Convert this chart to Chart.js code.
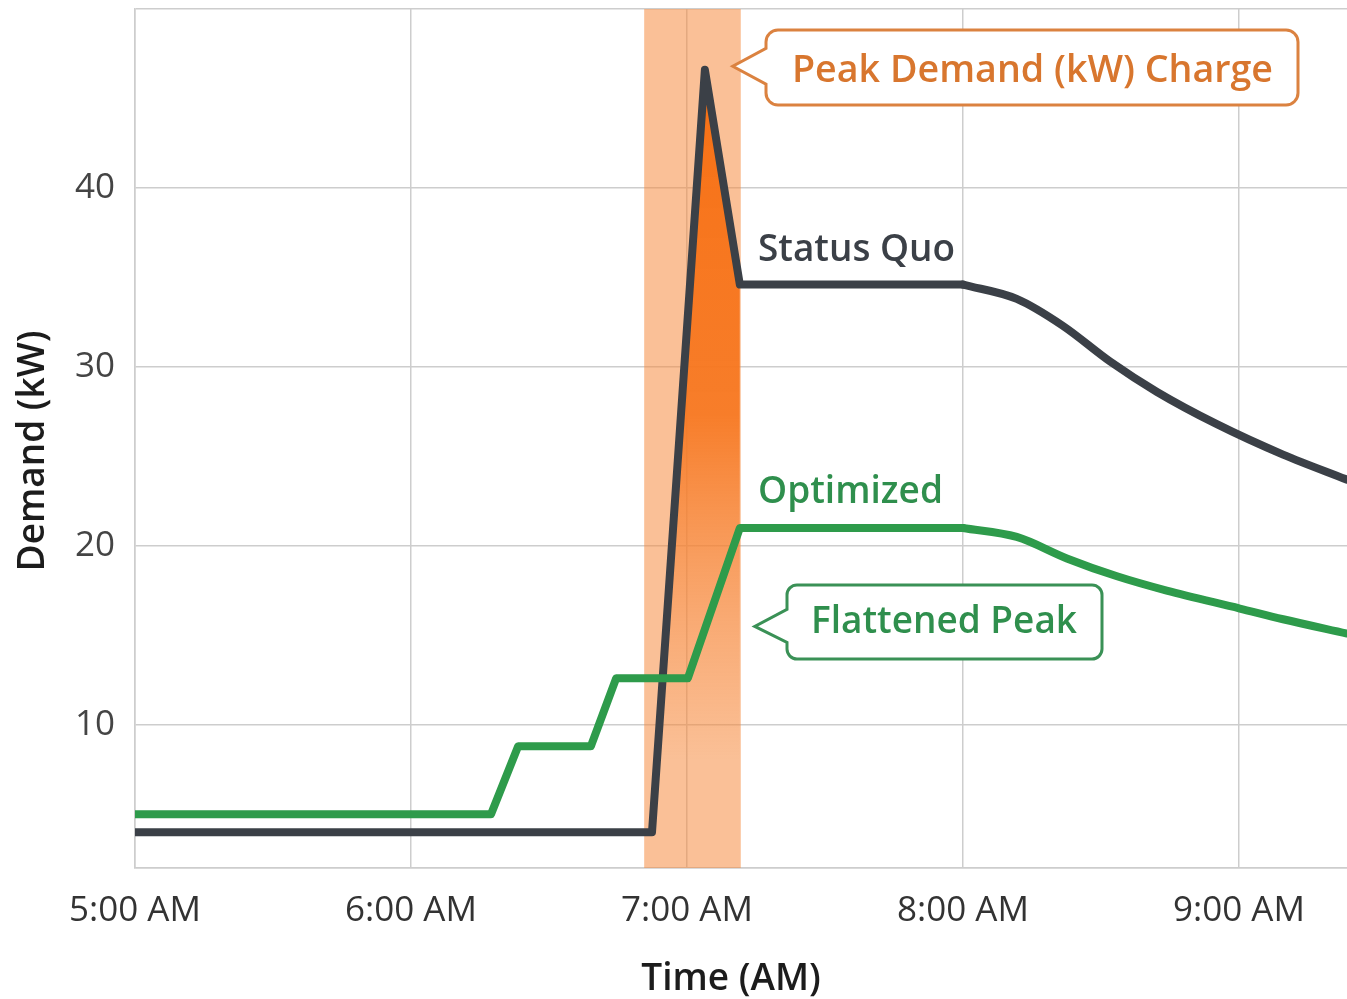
<!DOCTYPE html>
<html><head><meta charset="utf-8">
<script src="https://cdn.jsdelivr.net/npm/chart.js@4.4.1/dist/chart.umd.min.js"></script>
<style>html,body{margin:0;padding:0;background:#fff;overflow:hidden}#wrap{width:1347px;height:999px;position:relative}canvas{display:block}</style>
</head><body><div id="wrap"><canvas id="c" width="1347" height="999"></canvas></div>
<script>
// ---- data (time in minutes after midnight, demand in kW) ----
const xTickMinutes = [300, 360, 420, 480, 540];
const xTickLabels = ['5:00 AM', '6:00 AM', '7:00 AM', '8:00 AM', '9:00 AM'];
const yTickValues = [10, 20, 30, 40];
const statusQuoTime = [300, 412.4, 423.9, 431.5, 480, 491.7, 501.7, 512, 522.2, 535.2, 549.6, 563.5];
const statusQuoKW   = [4, 4, 46.6, 34.6, 34.6, 33.8, 32.3, 30.3, 28.6, 26.8, 25.1, 23.7];
const optimizedTime = [300, 377.4, 383.3, 399.1, 404.6, 420.2, 431.5, 480, 491.7, 502.6, 513.5, 524.3, 540.2, 549.6, 563.5];
const optimizedKW   = [5, 5, 8.8, 8.8, 12.6, 12.6, 21, 21, 20.5, 19.3, 18.3, 17.5, 16.5, 15.9, 15.1];
const peakWindow = [410.7, 431.7];
const xRange = [300, 563.5];
const yRange = [2, 50];

const FONT = "'Open Sans', sans-serif";
const DARK = '#3b4047';
const GREEN = '#2e9b4b';
const GREEN_TXT = '#2f8f4d';
const ORANGE_TXT = '#d8762e';

function pts(t, v, from, to) {
  const out = [];
  for (let i = from; i <= to; i++) out.push({x: t[i], y: v[i]});
  return out;
}
const sqSplit = statusQuoTime.indexOf(480);
const opSplit = optimizedTime.indexOf(480);
const peakStart = 1, peakEnd = 3;

const lineBase = {pointRadius: 0, borderWidth: 8, borderJoinStyle: 'round', borderCapStyle: 'round', fill: false};

const bandPlugin = {
  id: 'band',
  beforeDatasetsDraw(chart) {
    const {ctx, chartArea, scales} = chart;
    const x0 = scales.x.getPixelForValue(peakWindow[0]);
    const x1 = scales.x.getPixelForValue(peakWindow[1]);
    ctx.save();
    ctx.fillStyle = 'rgba(245,140,65,0.55)';
    ctx.fillRect(x0, chartArea.top, x1 - x0, chartArea.bottom - chartArea.top);
    ctx.restore();
  }
};

function calloutPath(ctx, l, t, r, b, tipX, tipY, bt, bb, rad) {
  ctx.beginPath();
  ctx.moveTo(l + rad, t);
  ctx.lineTo(r - rad, t);
  ctx.arcTo(r, t, r, t + rad, rad);
  ctx.lineTo(r, b - rad);
  ctx.arcTo(r, b, r - rad, b, rad);
  ctx.lineTo(l + rad, b);
  ctx.arcTo(l, b, l, b - rad, rad);
  ctx.lineTo(l, bb);
  ctx.lineTo(tipX, tipY);
  ctx.lineTo(l, bt);
  ctx.lineTo(l, t + rad);
  ctx.arcTo(l, t, l + rad, t, rad);
  ctx.closePath();
}

function drawLabel(ctx, text, x, baseline, width, color, size) {
  ctx.save();
  ctx.font = '600 ' + size + 'px ' + FONT;
  const w = ctx.measureText(text).width;
  ctx.translate(x, baseline);
  ctx.scale(width / w, 1);
  ctx.fillStyle = color;
  ctx.textAlign = 'left';
  ctx.textBaseline = 'alphabetic';
  ctx.fillText(text, 0, 0);
  ctx.restore();
}

const annotPlugin = {
  id: 'annot',
  afterDraw(chart) {
    const {ctx, scales} = chart;
    const xs = scales.x, ys = scales.y;
    // Peak callout
    const tipX1 = xs.getPixelForValue(peakWindow[1]) - 8;
    const tipY1 = ys.getPixelForValue(46.8);
    ctx.save();
    calloutPath(ctx, 766, 30, 1298, 105, tipX1, tipY1, tipY1 - 18, tipY1 + 18, 12);
    ctx.fillStyle = '#fff';
    ctx.fill();
    ctx.lineWidth = 3;
    ctx.strokeStyle = '#db8240';
    ctx.stroke();
    ctx.restore();
    drawLabel(ctx, 'Peak Demand (kW) Charge', 792, 82, 481, ORANGE_TXT, 38);

    // Flattened callout
    const tipX2 = xs.getPixelForValue(peakWindow[1]) + 14;
    const tipY2 = ys.getPixelForValue(15.5);
    ctx.save();
    calloutPath(ctx, 787, 585, 1102, 659, tipX2, tipY2, tipY2 - 17, tipY2 + 16, 10);
    ctx.fillStyle = '#fff';
    ctx.fill();
    ctx.lineWidth = 3;
    ctx.strokeStyle = '#3a9156';
    ctx.stroke();
    ctx.restore();
    drawLabel(ctx, 'Flattened Peak', 811, 633, 266, GREEN_TXT, 38);

    // Series labels
    drawLabel(ctx, 'Status Quo', 758, 261, 197, DARK, 38);
    drawLabel(ctx, 'Optimized', 758, 503, 185, GREEN_TXT, 38);

    // Axis titles
    ctx.save();
    ctx.font = '600 37px ' + FONT;
    ctx.fillStyle = '#1c1c1c';
    ctx.textAlign = 'center';
    ctx.textBaseline = 'alphabetic';
    ctx.fillText('Time (AM)', 731, 990);
    ctx.translate(44, 451);
    ctx.rotate(-Math.PI / 2);
    ctx.fillText('Demand (kW)', 0, 0);
    ctx.restore();
  }
};

const ctx = document.getElementById('c').getContext('2d');
new Chart(ctx, {
  type: 'line',
  data: {
    datasets: [
      Object.assign({label: 'Optimized', data: pts(optimizedTime, optimizedKW, 0, opSplit), borderColor: GREEN, tension: 0}, lineBase),
      Object.assign({label: 'Optimized tail', data: pts(optimizedTime, optimizedKW, opSplit, optimizedTime.length - 1), borderColor: GREEN, cubicInterpolationMode: 'monotone'}, lineBase),
      Object.assign({label: 'Status Quo', data: pts(statusQuoTime, statusQuoKW, 0, sqSplit), borderColor: DARK, tension: 0}, lineBase),
      Object.assign({label: 'Status Quo tail', data: pts(statusQuoTime, statusQuoKW, sqSplit, statusQuoTime.length - 1), borderColor: DARK, cubicInterpolationMode: 'monotone'}, lineBase),
      {
        label: 'Peak area',
        data: pts(statusQuoTime, statusQuoKW, peakStart, peakEnd),
        borderWidth: 0, pointRadius: 0, tension: 0, fill: 'start',
        backgroundColor(context) {
          const {chart} = context;
          const area = chart.chartArea;
          if (!area) return 'rgba(247,115,22,0.8)';
          const ys = chart.scales.y;
          const g = chart.ctx.createLinearGradient(0, ys.getPixelForValue(46.6), 0, ys.getPixelForValue(8));
          g.addColorStop(0, 'rgba(247,112,20,1)');
          g.addColorStop(0.5, 'rgba(247,118,30,0.9)');
          g.addColorStop(0.8, 'rgba(247,130,50,0.35)');
          g.addColorStop(1, 'rgba(247,130,50,0)');
          return g;
        }
      }
    ]
  },
  options: {
    responsive: false,
    animation: false,
    devicePixelRatio: 1,
    layout: {padding: {top: 9, right: 0, left: 0, bottom: 0}},
    plugins: {legend: {display: false}, tooltip: {enabled: false}},
    scales: {
      x: {
        type: 'linear', min: xRange[0], max: xRange[1],
        afterBuildTicks(scale) { scale.ticks = xTickMinutes.map(v => ({value: v})); },
        afterFit(scale) { scale.height = 131; scale.paddingLeft = 0; scale.paddingRight = 0; },
        ticks: {
          autoSkip: false, maxRotation: 0, padding: 22,
          color: '#333', font: {family: FONT, size: 35},
          callback(v) { const i = xTickMinutes.indexOf(v); return i >= 0 ? xTickLabels[i] : ''; }
        },
        grid: {color: '#cdcdcd', lineWidth: 1.5, drawTicks: false},
        border: {color: '#cdcdcd', width: 1.5}
      },
      y: {
        min: yRange[0], max: yRange[1],
        afterBuildTicks(scale) { scale.ticks = [yRange[0], ...yTickValues, yRange[1]].map(v => ({value: v})); },
        afterFit(scale) { scale.width = 135; scale.paddingTop = 0; scale.paddingBottom = 0; },
        ticks: {
          padding: 20, color: '#444', font: {family: FONT, size: 35},
          callback(v) { return yTickValues.includes(v) ? String(v) : ''; }
        },
        grid: {color: '#cdcdcd', lineWidth: 1.5, drawTicks: false},
        border: {color: '#cdcdcd', width: 1.5}
      }
    }
  },
  plugins: [bandPlugin, annotPlugin]
});
</script>
</body></html>
